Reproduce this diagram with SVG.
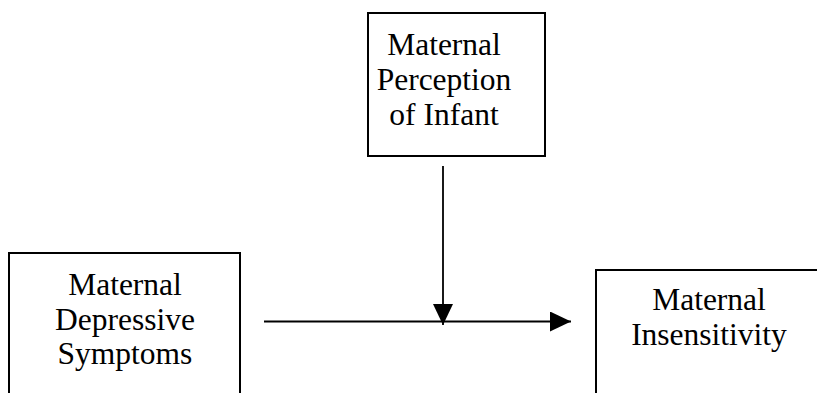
<svg xmlns="http://www.w3.org/2000/svg" width="817" height="393" viewBox="0 0 817 393">
<style>
.box{fill:#fff;stroke:#000;stroke-width:2}
.lbl{font-family:"Liberation Serif","Times New Roman",serif;font-size:31.5px;fill:#000;text-anchor:middle}
.conn{stroke:#000;stroke-width:1.8;fill:none}
</style>
<defs>
<marker id="ah" markerWidth="21" markerHeight="20" refX="21" refY="10" orient="auto" markerUnits="userSpaceOnUse">
<path d="M0,0 L21,10 L0,20 Z" fill="#000"/>
</marker>
</defs>
<rect width="817" height="393" fill="#fff"/>
<g id="node-perception">
<rect class="box" x="368" y="13" width="177" height="143"/>
<text class="lbl" x="444" y="55">Maternal</text>
<text class="lbl" x="444" y="90">Perception</text>
<text class="lbl" x="444" y="125">of Infant</text>
</g>
<g id="node-depressive">
<rect class="box" x="9" y="253" width="231" height="160"/>
<text class="lbl" x="125" y="295">Maternal</text>
<text class="lbl" x="125" y="329.5">Depressive</text>
<text class="lbl" x="125" y="364">Symptoms</text>
</g>
<g id="node-insensitivity">
<rect class="box" x="596" y="270" width="230" height="150"/>
<text class="lbl" x="709" y="310">Maternal</text>
<text class="lbl" x="709" y="345">Insensitivity</text>
</g>
<g id="connectors">
<line class="conn" x1="264" y1="321.5" x2="571" y2="321.5" marker-end="url(#ah)"/>
<line class="conn" x1="443" y1="166" x2="443" y2="325" marker-end="url(#ah)"/>
</g>
</svg>
